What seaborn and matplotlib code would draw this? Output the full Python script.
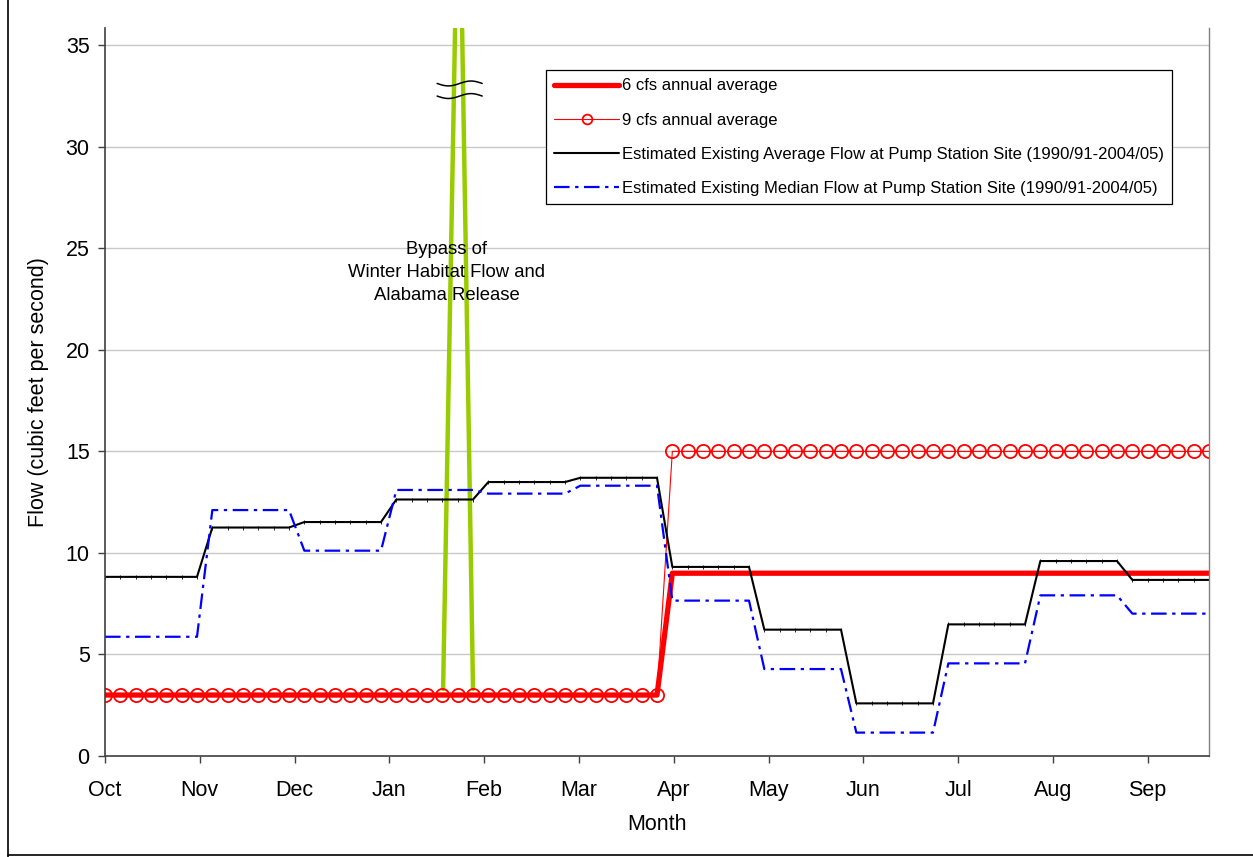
import numpy as np
import pandas as pd
import matplotlib
matplotlib.use("Agg")
import matplotlib.pyplot as plt
import seaborn as sns
from matplotlib.lines import Line2D

# water-year months, data are on a 5-day step (73 points)
months = ["Oct", "Nov", "Dec", "Jan", "Feb", "Mar", "Apr", "May", "Jun", "Jul", "Aug", "Sep"]
pts_per_month = [7, 6, 6, 6, 6, 6, 6, 6, 6, 6, 6, 6]

# monthly flow levels (cfs)
avg_flow = [8.82, 11.25, 11.52, 12.63, 13.49, 13.70, 9.31, 6.22, 2.59, 6.48, 9.60, 8.67]
median_flow = [5.87, 12.11, 10.11, 13.10, 12.92, 13.31, 7.65, 4.28, 1.15, 4.56, 7.91, 7.01]
six_cfs = [3, 3, 3, 3, 3, 3, 9, 9, 9, 9, 9, 9]
nine_cfs = [3, 3, 3, 3, 3, 3, 15, 15, 15, 15, 15, 15]

# bypass spike (winter habitat flow / Alabama release)
bypass_left_x = [22.05, 22.83]
bypass_right_x = [24.0, 23.29]
bypass_y = [3.3, 35.8]

df = pd.DataFrame({
    "step": np.arange(sum(pts_per_month)),
    "six": np.repeat(six_cfs, pts_per_month),
    "nine": np.repeat(nine_cfs, pts_per_month),
    "avg": np.repeat(avg_flow, pts_per_month),
    "median": np.repeat(median_flow, pts_per_month),
})

sns.set_theme(style="white")
plt.rcParams["font.family"] = ["Liberation Sans", "DejaVu Sans"]
plt.rcParams["text.color"] = "black"
plt.rcParams["axes.labelcolor"] = "black"
plt.rcParams["xtick.color"] = "black"
plt.rcParams["ytick.color"] = "black"

fig = plt.figure(figsize=(12.53, 8.57), dpi=100)
ax = fig.add_axes([0.0838, 0.1179, 0.8811, 0.8494])

# green bypass spike
sns.lineplot(x=bypass_left_x, y=bypass_y, sort=False, estimator=None,
             color="#99CC00", linewidth=3.2, ax=ax)
sns.lineplot(x=bypass_right_x, y=bypass_y, sort=False, estimator=None,
             color="#99CC00", linewidth=3.2, ax=ax)

sns.lineplot(data=df, x="step", y="six", ax=ax, color="#FF0000", linewidth=3.8,
             errorbar=None, label="6 cfs annual average")
sns.lineplot(data=df, x="step", y="nine", ax=ax, color="#FF0000", linewidth=0.8,
             marker="o", markersize=9.5, markerfacecolor="none",
             markeredgecolor="#FF0000", markeredgewidth=1.3,
             errorbar=None, label="9 cfs annual average")
sns.lineplot(data=df, x="step", y="avg", ax=ax, color="black", linewidth=1.5,
             marker="|", markersize=3, markeredgewidth=0.6, markeredgecolor="black",
             errorbar=None,
             label="Estimated Existing Average Flow at Pump Station Site (1990/91-2004/05)")
sns.lineplot(data=df, x="step", y="median", ax=ax, color="#0000FF", linewidth=1.6,
             linestyle=(0, (7, 2.5, 1.5, 2.5)), errorbar=None,
             label="Estimated Existing Median Flow at Pump Station Site (1990/91-2004/05)")

# axis break mark on the spike
u = np.linspace(0, 1, 60)
for yc in [33.12, 32.5]:
    ax.plot(21.66 + 2.94 * u, yc - 0.12 * np.sin(2 * np.pi * u), color="black",
            linewidth=1.1, zorder=5)

ax.text(22.3, 23.8, "Bypass of\nWinter Habitat Flow and\nAlabama Release",
        ha="center", va="center", fontsize=13.3, linespacing=1.45, zorder=6)

ax.set_xlim(0, 72)
ax.set_ylim(0, 35.85)
ax.set_xticks(np.linspace(0, 68, 12))
ax.set_xticklabels(months)
ax.set_yticks(range(0, 40, 5))
ax.tick_params(axis="both", direction="out", length=5, width=1, color="#404040",
               labelsize=15.5, left=True, bottom=True)
ax.tick_params(axis="x", pad=12)
ax.tick_params(axis="y", pad=6)
ax.yaxis.grid(True, color="#C8C8C8", linewidth=1)
ax.set_axisbelow(True)

for side in ["left", "bottom"]:
    ax.spines[side].set_color("#404040")
    ax.spines[side].set_linewidth(1.2)
ax.spines["right"].set_color("#808080")
ax.spines["right"].set_linewidth(1)
ax.spines["top"].set_visible(False)

ax.set_xlabel("Month", fontsize=15.5, labelpad=10)
ax.set_ylabel("Flow (cubic feet per second)", fontsize=15.5, labelpad=12)

leg = ax.legend(loc="upper right", bbox_to_anchor=(0.9665, 0.9423), borderaxespad=0,
                fontsize=12, frameon=True, fancybox=False, framealpha=1,
                edgecolor="black", handlelength=3.9, handletextpad=0.15,
                labelspacing=1.15, borderpad=0.5)
leg.get_frame().set_linewidth(0.9)
handles = leg.legend_handles
handles[1].set_markersize(7)
handles[2].set_marker("")

# outer chart border (left and bottom edges visible)
fig.add_artist(Line2D([0.0065, 0.0065], [0.0, 1.0], transform=fig.transFigure,
                      color="black", linewidth=1.2))
fig.add_artist(Line2D([0.0065, 1.0], [0.0025, 0.0025], transform=fig.transFigure,
                      color="black", linewidth=1.2))

fig.savefig("out.png", dpi=100)
